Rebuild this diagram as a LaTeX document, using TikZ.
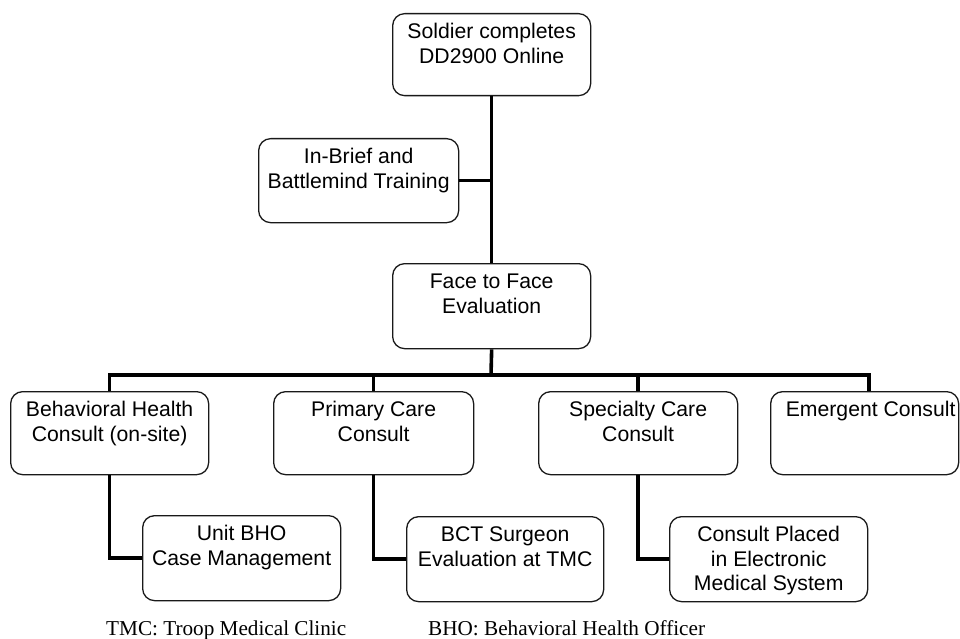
\documentclass[tikz,border=0pt]{standalone}
\usepackage{fontspec}
\setmainfont{Liberation Sans}
\newfontfamily\notefont{Liberation Serif}
\newcommand{\boxtxt}[3]{\parbox[c][#2pt][t]{#1pt}{\centering\fontsize{21.2}{24.5}\selectfont\rule{0pt}{25pt}#3\par}}
\tikzset{
  box/.style={draw=black!90, line width=1.3pt, rounded corners=12pt, inner sep=0pt, anchor=north west},
  conn/.style={draw=black, line width=3.6pt, line cap=butt, line join=miter},
  note/.style={anchor=base west, inner sep=0pt, font=\notefont\fontsize{21.2}{24}\selectfont}
}
\begin{document}
\begin{tikzpicture}[x=1pt, y=-1pt]
\useasboundingbox[fill=white] (0,0) rectangle (960,639);
% boxes
\node[box] (top) at (392,13) {\boxtxt{198}{82}{Soldier completes\\DD2900 Online}};
\node[box] (brief) at (258,138) {\boxtxt{200}{84}{In-Brief and\\Battlemind Training}};
\node[box] (face) at (392,263) {\boxtxt{198}{85}{Face to Face\\Evaluation}};
\node[box] (bh) at (10,391) {\boxtxt{198}{83}{Behavioral Health\\Consult (on-site)}};
\node[box] (pc) at (273,391) {\boxtxt{200}{83}{Primary Care\\Consult}};
\node[box] (sc) at (538,391) {\boxtxt{199}{83}{Specialty Care\\Consult}};
\node[box] (em) at (770,391) {\boxtxt{188}{83}{\hspace*{12pt}Emergent Consult}};
\node[box] (ubho) at (142,515) {\boxtxt{198}{85}{Unit BHO\\Case Management}};
\node[box] (bct) at (406,516) {\boxtxt{197}{85}{BCT Surgeon\\Evaluation at TMC}};
\node[box] (cons) at (669,516) {\boxtxt{198}{85}{Consult Placed\\in Electronic\\Medical System}};
% coordinates
\coordinate (bus) at (491,375);
\coordinate (emtop) at (869,391);
% connectors
\draw[conn] (top.south) -- (face.north);
\draw[conn] (brief.east) -- (brief.east -| top.south);
\draw[conn] (face.south) -- (bus);
\draw[conn] (bh.north) -- (bh.north |- bus) -- (emtop |- bus) -- (emtop);
\draw[conn] (pc.north) -- (pc.north |- bus);
\draw[conn] (sc.north) -- (sc.north |- bus);
\draw[conn] (bh.south) |- (ubho.west);
\draw[conn] (pc.south) |- (bct.west);
\draw[conn] (sc.south) |- (cons.west);
% notes
\node[note] (tmc) at (106,635) {TMC: Troop Medical Clinic};
\node[note] (bho) at (428,635) {BHO: Behavioral Health Officer};
\end{tikzpicture}
\end{document}
